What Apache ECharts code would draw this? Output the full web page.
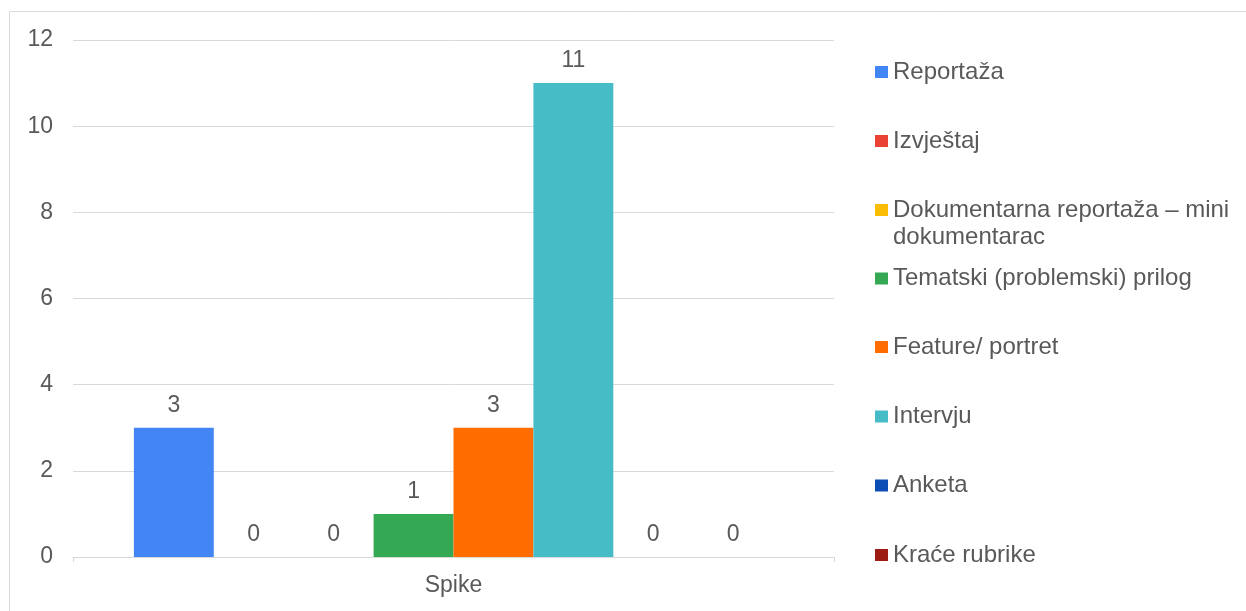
<!DOCTYPE html>
<html>
<head>
<meta charset="utf-8">
<script src="https://cdn.jsdelivr.net/npm/echarts@6/dist/echarts.min.js"></script>
<style>
html,body{margin:0;padding:0;background:#fff;}
#chart{width:1246px;height:611px;}
</style>
</head>
<body>
<div id="chart"></div>
<script>
const categories = ['Spike'];
const seriesNames = ['Reportaža', 'Izvještaj', 'Dokumentarna reportaža – mini dokumentarac', 'Tematski (problemski) prilog', 'Feature/ portret', 'Intervju', 'Anketa', 'Kraće rubrike'];
const seriesValues = [3, 0, 0, 1, 3, 11, 0, 0];
const seriesColors = ['#4285F4', '#EA4335', '#FBBC04', '#34A853', '#FF6D01', '#46BDC6', '#0B4DB3', '#9C1B12'];
const yTicks = [0, 2, 4, 6, 8, 10, 12];

const font = 'Liberation Sans, Arial, sans-serif';
const textColor = '#595959';
const LH = 27;

const legendCenters = [72, 141, 210, 278.5, 347, 416.5, 485.5, 555];
const legends = seriesNames.map((name, i) => {
  const twoLine = name.indexOf('–') >= 0;
  return {
    data: [name],
    orient: 'vertical',
    left: 875,
    top: twoLine ? legendCenters[i] - 1.5 * LH : legendCenters[i] - 0.5 * LH,
    padding: 0,
    itemWidth: 13,
    itemHeight: 12,
    itemGap: 0,
    icon: 'rect',
    selectedMode: false,
    formatter: twoLine ? (n) => '\n' + n.replace(' dokumentarac', '\ndokumentarac') : '{name}',
    textStyle: {
      fontFamily: font,
      fontSize: 24,
      color: textColor,
      lineHeight: LH
    }
  };
});

const series = seriesNames.map((name, i) => ({
  name: name,
  type: 'bar',
  data: [seriesValues[i]],
  barGap: '0%',
  barCategoryGap: '16%',
  itemStyle: { color: seriesColors[i] },
  label: {
    show: true,
    position: 'top',
    distance: 11,
    fontFamily: font,
    fontSize: 23,
    color: textColor
  }
}));

const chart = echarts.init(document.getElementById('chart'), null, { renderer: 'canvas' });
chart.setOption({
  animation: false,
  backgroundColor: '#fff',
  textStyle: { fontFamily: font },
  graphic: [{
    type: 'rect',
    shape: { x: 9.5, y: 11.5, width: 1400, height: 800 },
    style: { fill: null, stroke: '#d9d9d9', lineWidth: 1 },
    silent: true,
    z: -10
  }],
  legend: legends,
  grid: { left: 73, right: 412, top: 40, bottom: 54, containLabel: false },
  xAxis: {
    type: 'category',
    data: categories,
    axisLine: { lineStyle: { color: '#d9d9d9', width: 1 } },
    axisTick: { show: true, length: 5, lineStyle: { color: '#d9d9d9' } },
    axisLabel: { fontFamily: font, fontSize: 23, color: textColor, margin: 17 }
  },
  yAxis: {
    type: 'value',
    min: yTicks[0],
    max: yTicks[yTicks.length - 1],
    interval: 2,
    axisLine: { show: false },
    axisTick: { show: false },
    splitLine: { lineStyle: { color: '#d9d9d9', width: 1 } },
    axisLabel: { fontFamily: font, fontSize: 23, color: textColor, margin: 20, padding: [4, 0, 0, 0] }
  },
  series: series
});
</script>
</body>
</html>
